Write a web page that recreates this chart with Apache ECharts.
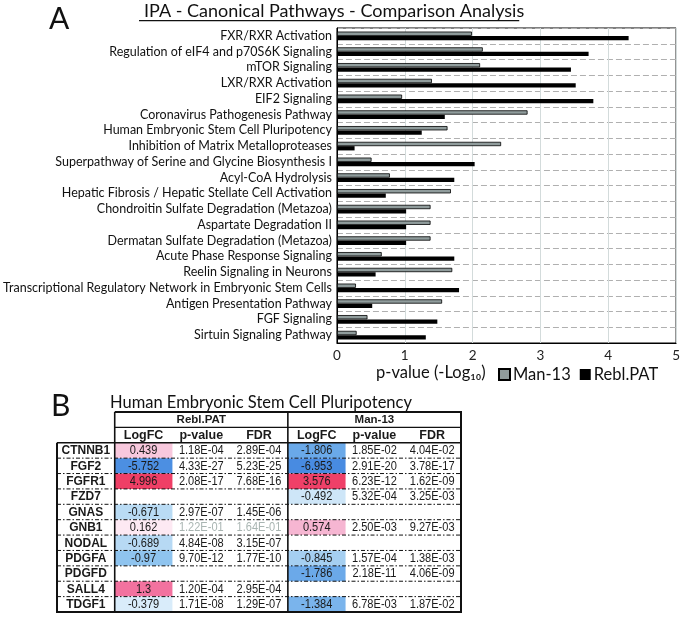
<!DOCTYPE html>
<html><head><meta charset="utf-8">
<script src="https://cdn.jsdelivr.net/npm/echarts@6/dist/echarts.min.js"></script>
<style>html,body{margin:0;padding:0;background:#fff}#c{width:683px;height:617px}</style>
</head><body><div id="c"></div>
<script>
// ---------- Panel A data ----------
const pathways = ['FXR/RXR Activation', 'Regulation of eIF4 and p70S6K Signaling', 'mTOR Signaling', 'LXR/RXR Activation', 'EIF2 Signaling', 'Coronavirus Pathogenesis Pathway', 'Human Embryonic Stem Cell Pluripotency', 'Inhibition of Matrix Metalloproteases', 'Superpathway of Serine and Glycine Biosynthesis I', 'Acyl-CoA Hydrolysis', 'Hepatic Fibrosis / Hepatic Stellate Cell Activation', 'Chondroitin Sulfate Degradation (Metazoa)', 'Aspartate Degradation II', 'Dermatan Sulfate Degradation (Metazoa)', 'Acute Phase Response Signaling', 'Reelin Signaling in Neurons', 'Transcriptional Regulatory Network in Embryonic Stem Cells', 'Antigen Presentation Pathway', 'FGF Signaling', 'Sirtuin Signaling Pathway'];
const man13 = [1.99, 2.15, 2.11, 1.40, 0.96, 2.81, 1.63, 2.42, 0.51, 0.78, 1.68, 1.38, 1.38, 1.38, 0.66, 1.70, 0.28, 1.55, 0.45, 0.29];
const reblPAT = [4.30, 3.71, 3.45, 3.52, 3.78, 1.59, 1.25, 0.26, 2.03, 1.73, 0.72, 1.02, 1.02, 1.02, 1.73, 0.57, 1.80, 0.52, 1.48, 1.31];
const seriesNames = ['Man-13', 'Rebl.PAT'];
const xMin = 0, xMax = 5, xStep = 1;

// ---------- Panel B data ----------
const groupHeaders = ['Rebl.PAT', 'Man-13'];
const colHeaders = ['LogFC', 'p-value', 'FDR'];
const genes = ['CTNNB1', 'FGF2', 'FGFR1', 'FZD7', 'GNAS', 'GNB1', 'NODAL', 'PDGFA', 'PDGFD', 'SALL4', 'TDGF1'];
const reblLogFC = [0.439, -5.752, 4.996, null, -0.671, 0.162, -0.689, -0.97, null, 1.3, -0.379];
const reblP = ['1.18E-04', '4.33E-27', '2.08E-17', null, '2.97E-07', '1.22E-01', '4.84E-08', '9.70E-12', null, '1.20E-04', '1.71E-08'];
const reblFDR = ['2.89E-04', '5.23E-25', '7.68E-16', null, '1.45E-06', '1.64E-01', '3.15E-07', '1.77E-10', null, '2.95E-04', '1.29E-07'];
const manLogFC = [-1.806, -6.953, 3.576, -0.492, null, 0.574, null, -0.845, -1.786, null, -1.384];
const manP = ['1.85E-02', '2.91E-20', '6.23E-12', '5.32E-04', null, '2.50E-03', null, '1.57E-04', '2.18E-11', null, '6.78E-03'];
const manFDR = ['4.04E-02', '3.78E-17', '1.62E-09', '3.25E-03', null, '9.27E-03', null, '1.38E-03', '4.06E-09', null, '1.87E-02'];

// ---------- colour scale for LogFC ----------
const negStops = [[0, [255,255,255]], [-0.38, [217,236,250]], [-0.5, [205,230,248]], [-0.68, [184,218,244]], [-0.85, [164,207,241]], [-0.97, [143,196,239]], [-1.38, [122,180,236]], [-1.8, [106,169,233]], [-5.75, [76,143,226]], [-7, [72,139,225]]];
const posStops = [[0, [255,255,255]], [0.16, [253,233,243]], [0.44, [248,200,221]], [0.57, [246,182,210]], [1.3, [242,114,159]], [3.5, [239,64,104]], [5, [239,63,102]]];
function fcColor(v) {
  const stops = v < 0 ? negStops : posStops;
  const a = Math.abs(v);
  for (let i = 1; i < stops.length; i++) {
    const s0 = stops[i-1], s1 = stops[i];
    if (a <= Math.abs(s1[0])) {
      const t = (a - Math.abs(s0[0])) / (Math.abs(s1[0]) - Math.abs(s0[0]));
      const c = s0[1].map((x, k) => Math.round(x + (s1[1][k] - x) * t));
      return 'rgb(' + c.join(',') + ')';
    }
  }
  const c = stops[stops.length-1][1];
  return 'rgb(' + c.join(',') + ')';
}

// ---------- build table cells ----------
const tableCols = ['gene', 'rFC', 'rP', 'rFDR', 'mFC', 'mP', 'mFDR'];
const tableRows = ['h1', 'h2'].concat(genes);
const cells = [];
const NUMFONT = '12px "Liberation Sans", Arial, sans-serif';
const BOLD = 'bold 12px "Liberation Sans", Arial, sans-serif';
cells.push({col: 2, row: 0, text: groupHeaders[0], font: 'bold 11.5px "Liberation Sans", Arial, sans-serif'});
cells.push({col: 5, row: 0, text: groupHeaders[1], font: 'bold 11.5px "Liberation Sans", Arial, sans-serif'});
for (let g = 0; g < 2; g++) colHeaders.forEach((h, k) => cells.push({col: 1 + g*3 + k, row: 1, text: h, font: 'bold 12.5px "Liberation Sans", Arial, sans-serif'}));
genes.forEach((gname, i) => {
  const r = i + 2;
  cells.push({col: 0, row: r, text: gname, font: BOLD});
  const groups = [[reblLogFC, reblP, reblFDR], [manLogFC, manP, manFDR]];
  groups.forEach((grp, g) => {
    const fc = grp[0][i];
    if (fc === null) return;
    const ns = parseFloat(grp[1][i]) > 0.05;
    cells.push({col: 1 + g*3, row: r, text: String(fc), font: NUMFONT, fill: fcColor(fc)});
    cells.push({col: 2 + g*3, row: r, text: grp[1][i], font: NUMFONT, color: ns ? '#a9b5b2' : null});
    cells.push({col: 3 + g*3, row: r, text: grp[2][i], font: NUMFONT, color: ns ? '#a9b5b2' : null});
  });
});

const chart = echarts.init(document.getElementById('c'), null, {renderer: 'canvas'});
const LATO = 'Lato, "Open Sans", sans-serif';

function cellRender(params, api) {
  const it = cells[params.dataIndex];
  const c = api.coord([it.col, it.row]);
  const s = api.size([1, 1]);
  const children = [];
  if (it.fill) children.push({type: 'rect', shape: {x: c[0] - s[0]/2, y: c[1] - s[1]/2, width: s[0], height: s[1]}, style: {fill: it.fill}});
  children.push({type: 'text', x: c[0], y: c[1] + 0.5, scaleX: it.font === NUMFONT ? 0.92 : 1, style: {text: it.text, x: 0, y: 0, align: 'center', verticalAlign: 'middle', font: it.font, fill: it.color || '#1a1a1a'}});
  return {type: 'group', children};
}

function linesRender(params, api) {
  const s = api.size([1, 1]);
  const X = c => api.coord([c, 0])[0] - s[0]/2;
  const Y = r => api.coord([0, r])[1] - s[1]/2;
  const nR = tableRows.length, nC = tableCols.length;
  const L = (x1, y1, x2, y2, w, dash) => ({type: 'line', shape: {x1, y1, x2, y2}, style: {stroke: '#111', lineWidth: w, lineDash: dash || null}});
  const out = [];
  for (let r = 3; r < nR; r++) out.push(L(X(0), Y(r), X(nC), Y(r), 1, [4, 2, 1.5, 2]));
  out.push(L(X(1), Y(0), X(nC), Y(0), 2));
  out.push(L(X(1), Y(1), X(nC), Y(1), 1.2));
  out.push(L(X(0), Y(2), X(nC), Y(2), 1.6));
  out.push(L(X(0) - 1, Y(nR), X(nC) + 1, Y(nR), 2));
  out.push(L(X(0), Y(2), X(0), Y(nR), 2));
  out.push(L(X(1), Y(0), X(1), Y(nR), 1.6));
  out.push(L(X(4), Y(0), X(4), Y(nR), 1.6));
  out.push(L(X(nC), Y(0) - 1, X(nC), Y(nR), 2));
  return {type: 'group', children: out};
}

const option = {
  animation: false,
  backgroundColor: '#fff',
  title: [
    {text: 'A', left: 44, top: -1, textStyle: {fontFamily: LATO, fontSize: 30, fontWeight: 'normal', color: '#111'}},
    {text: 'IPA - Canonical Pathways - Comparison Analysis', left: 139, top: -3, textStyle: {fontFamily: LATO, fontSize: 18, fontWeight: 'normal', color: '#111'}},
    {text: 'p-value (-Log₁₀)', left: 371, top: 359, textStyle: {fontFamily: LATO, fontSize: 16.5, fontWeight: 'normal', color: '#111'}},
    {text: 'B', left: 46, top: 386, textStyle: {fontFamily: LATO, fontSize: 30, fontWeight: 'normal', color: '#111'}},
    {text: 'Human Embryonic Stem Cell Pluripotency', left: 105, top: 389, textStyle: {fontFamily: LATO, fontSize: 16.5, fontWeight: 'normal', color: '#111'}}
  ],
  legend: {
    data: seriesNames, left: 493, top: 361, icon: 'rect', itemWidth: 11, itemHeight: 11, itemGap: 9,
    textStyle: {fontFamily: LATO, fontSize: 16.5, color: '#111', padding: [0, 0, 0, -2]}
  },
  grid: [
    {left: 333, right: 6, top: 28, bottom: 274, show: true, borderColor: '#000', borderWidth: 1, containLabel: false},
    {left: 57, top: 412, width: 404, height: 200, show: false}
  ],
  xAxis: [
    {type: 'value', gridIndex: 0, min: xMin, max: xMax, interval: xStep,
     axisLine: {show: true, lineStyle: {color: '#000'}}, axisTick: {show: false},
     axisLabel: {fontFamily: LATO, fontSize: 13.5, color: '#222', margin: 6},
     splitLine: {show: true, lineStyle: {color: '#d3dbdb', width: 1}}},
    {type: 'category', gridIndex: 1, data: tableCols, show: false}
  ],
  yAxis: [
    {type: 'category', gridIndex: 0, data: pathways, inverse: true,
     axisLine: {show: true, lineStyle: {color: '#000'}}, axisTick: {show: false},
     axisLabel: {fontFamily: LATO, fontSize: 12.5, color: '#111', margin: 5, interval: 0},
     splitLine: {show: true, interval: 0, lineStyle: {color: '#b0b0b0', type: [6, 3], width: 1}}},
    {type: 'category', gridIndex: 1, data: tableRows, inverse: true, show: false}
  ],
  series: [
    {name: seriesNames[0], type: 'bar', xAxisIndex: 0, yAxisIndex: 0, data: man13, barWidth: 4.3, barGap: '0%',
     itemStyle: {color: '#909c9c', borderColor: '#000', borderWidth: 0.8}},
    {name: seriesNames[1], type: 'bar', xAxisIndex: 0, yAxisIndex: 0, data: reblPAT, barWidth: 4.3, barGap: '0%',
     itemStyle: {color: '#000'}},
    {type: 'custom', xAxisIndex: 1, yAxisIndex: 1, data: cells.map(() => [0, 0]), renderItem: cellRender, clip: false, silent: true, z: 2},
    {type: 'custom', xAxisIndex: 1, yAxisIndex: 1, data: [[0, 0]], renderItem: linesRender, clip: false, silent: true, z: 3}
  ]
};
chart.setOption(option);

// underline of main title (decoration), measured from the rendered text width
const cv = document.createElement('canvas').getContext('2d');
cv.font = '18px Lato';
const tw = cv.measureText(option.title[1].text).width;
chart.setOption({graphic: [{type: 'rect', shape: {x: 139, y: 20, width: tw, height: 1.3}, style: {fill: '#111'}, silent: true}]});
</script></body></html>
